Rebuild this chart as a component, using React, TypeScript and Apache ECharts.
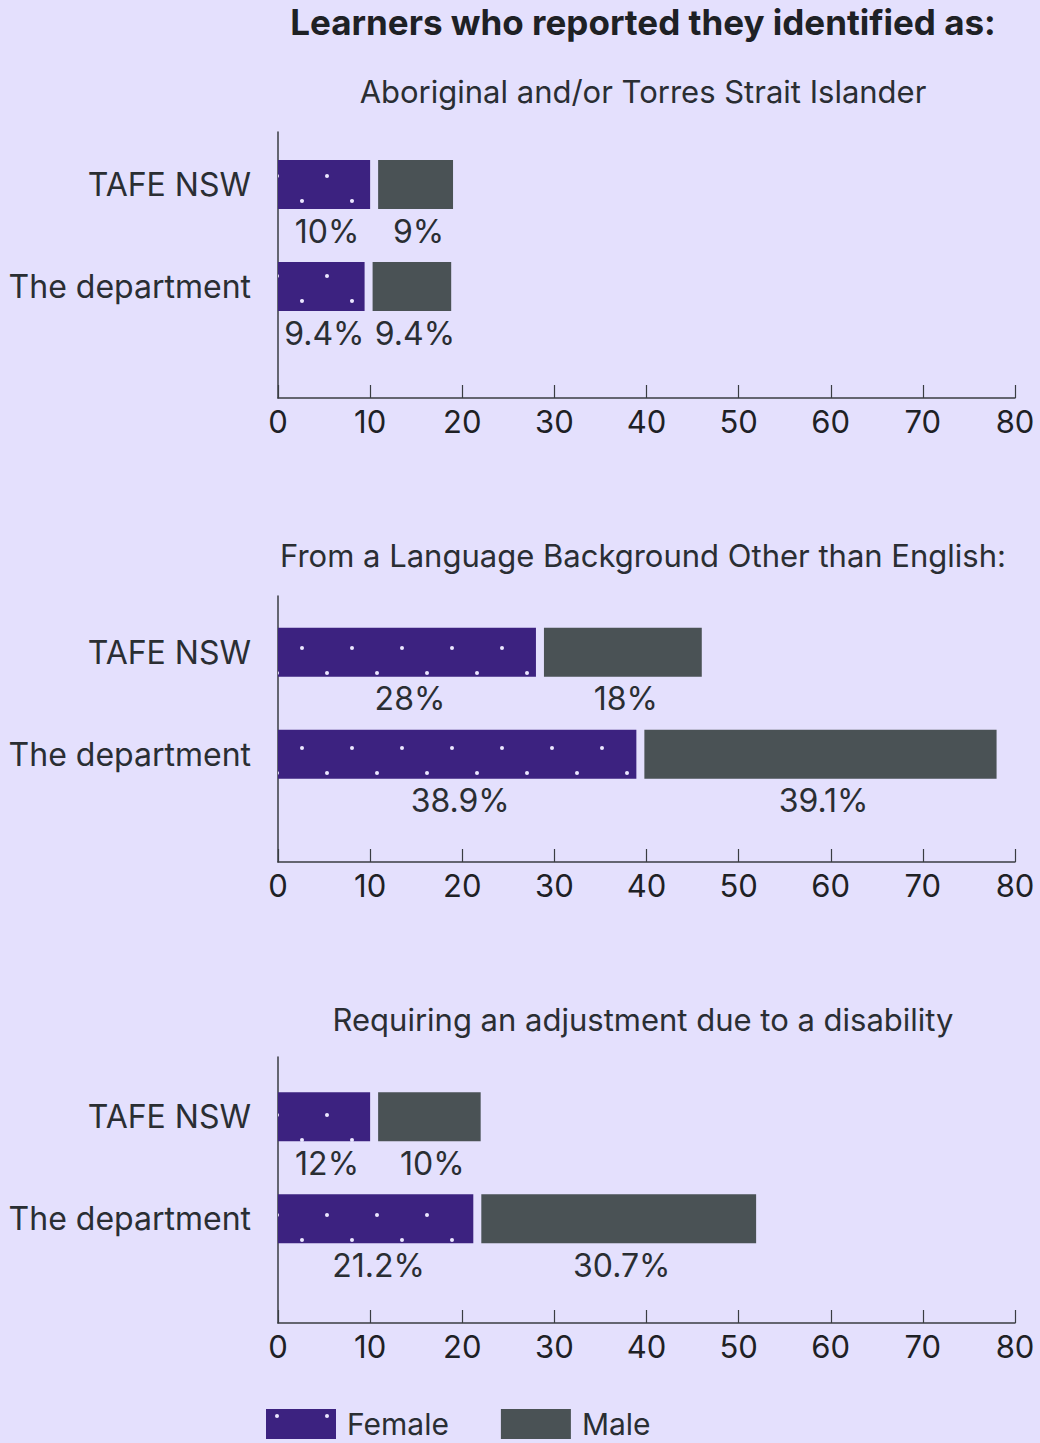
import React, { useEffect, useRef } from "react";
import * as echarts from "echarts";

// ---------- data ----------
const categories = ["TAFE NSW", "The department"];
const chartTitles = [
  "Aboriginal and/or Torres Strait Islander",
  "From a Language Background Other than English:",
  "Requiring an adjustment due to a disability",
];
const mainTitle = "Learners who reported they identified as:";
const seriesNames = ["Female", "Male"];

// bar lengths as drawn
const femaleAboriginal = [10, 9.4];
const maleAboriginal = [9, 9.4];
const femaleLbote = [28, 38.9];
const maleLbote = [18, 39.1];
const femaleDisability = [10, 21.2];
const maleDisability = [12, 30.7];

// printed labels
const femaleAboriginalLabels = ["10%", "9.4%"];
const maleAboriginalLabels = ["9%", "9.4%"];
const femaleLboteLabels = ["28%", "38.9%"];
const maleLboteLabels = ["18%", "39.1%"];
const femaleDisabilityLabels = ["12%", "21.2%"];
const maleDisabilityLabels = ["10%", "30.7%"];

const axisMin = 0;
const axisMax = 80;
const axisInterval = 10;

// ---------- styles ----------
const BG = "#E4E0FD";
const PURPLE = "#3C2280";
const GREY = "#4A5255";
const DOT = "#ECE8FF";
const TEXT = "#2A2E33";
const AXIS = "#3A3D42";
const FONT = "Inter, 'Noto Sans', sans-serif";

const GRID_LEFT = 278;
const GRID_WIDTH = 737;
const BAR_H = 49;
const GAP = 8;
const LABEL_DIST = 6;

const frameTops = [132, 596, 1057];
const frameHeight = 266;
const barGridTops = [133.5, 601.3, 1065.8];
const barGridHeight = 204;
const titleYs = [91, 555, 1019];
const dotPhase = [
  [2, 1],
  [2, 48],
  [2, 40],
];

function makeDots(xA: number, yA: number) {
  const c = document.createElement("canvas");
  c.width = 50;
  c.height = 50;
  const g = c.getContext("2d")!;
  g.fillStyle = PURPLE;
  g.fillRect(0, 0, 50, 50);
  g.fillStyle = DOT;
  const pts = [
    [xA, yA],
    [xA + 25, yA + 25],
  ];
  for (const [px, py] of pts) {
    for (const dx of [-50, 0, 50]) {
      for (const dy of [-50, 0, 50]) {
        g.beginPath();
        g.arc(px + dx, py + dy, 2, 0, Math.PI * 2);
        g.fill();
      }
    }
  }
  return c;
}

export default function App() {
  const ref = useRef<HTMLDivElement>(null);

  useEffect(() => {
    document.body.style.margin = "0";
    document.body.style.background = BG;
    const chart = echarts.init(ref.current!, undefined, { renderer: "svg" });

    const females = [femaleAboriginal, femaleLbote, femaleDisability];
    const males = [maleAboriginal, maleLbote, maleDisability];
    const femaleLabels = [femaleAboriginalLabels, femaleLboteLabels, femaleDisabilityLabels];
    const maleLabels = [maleAboriginalLabels, maleLboteLabels, maleDisabilityLabels];

    const patterns = dotPhase.map(([x, y]) => ({ image: makeDots(x, y), repeat: "repeat" }));
    const legendPattern = { image: makeDots(11, 7), repeat: "repeat" };

    const grids: any[] = [];
    const xAxes: any[] = [];
    const yAxes: any[] = [];
    const series: any[] = [];
    const graphics: any[] = [];

    graphics.push({
      type: "text",
      x: 643,
      y: 22,
      style: {
        text: mainTitle,
        align: "center",
        verticalAlign: "middle",
        fill: "#1E2125",
        font: `700 35px ${FONT}`,
      },
    });

    const makeRender = (labels: string[], fill: any, isMale: boolean) =>
      (params: any, api: any) => {
        const i = params.dataIndex;
        const cat = api.value(0);
        const start = api.value(1);
        const len = api.value(2);
        const p0 = api.coord([start, cat]);
        const p1 = api.coord([start + len, cat]);
        const x0 = p0[0] + (isMale ? GAP : 0);
        const x1 = p1[0];
        const y = p0[1] - BAR_H / 2;
        return {
          type: "group",
          children: [
            {
              type: "rect",
              shape: { x: x0, y, width: x1 - x0, height: BAR_H },
              style: { fill },
            },
            {
              type: "text",
              x: (x0 + x1) / 2 + 3,
              y: y + BAR_H + LABEL_DIST,
              style: {
                text: labels[i],
                align: "center",
                verticalAlign: "top",
                fill: TEXT,
                font: `400 32px ${FONT}`,
              },
            },
          ],
        };
      };

    for (let k = 0; k < 3; k++) {
      grids.push({ left: GRID_LEFT, width: GRID_WIDTH, top: barGridTops[k], height: barGridHeight });
      grids.push({ left: GRID_LEFT, width: GRID_WIDTH, top: frameTops[k], height: frameHeight });

      const gBar = 2 * k;
      const gFrame = 2 * k + 1;

      xAxes.push({
        gridIndex: gBar,
        type: "value",
        min: axisMin,
        max: axisMax,
        interval: axisInterval,
        show: false,
      });
      xAxes.push({
        gridIndex: gFrame,
        type: "value",
        min: axisMin,
        max: axisMax,
        interval: axisInterval,
        axisLine: { show: true, lineStyle: { color: AXIS, width: 1.5 } },
        axisTick: { show: true, inside: true, length: 13, lineStyle: { color: AXIS, width: 1.2 } },
        axisLabel: { color: "#1E2125", fontSize: 31, fontFamily: FONT, margin: 8 },
        splitLine: { show: false },
      });
      yAxes.push({
        gridIndex: gBar,
        type: "category",
        data: categories,
        inverse: true,
        axisLine: { show: false },
        axisTick: { show: false },
        axisLabel: { color: TEXT, fontSize: 32, fontFamily: FONT, margin: 27 },
      });
      yAxes.push({
        gridIndex: gFrame,
        type: "value",
        axisLine: { show: true, lineStyle: { color: AXIS, width: 1.5 } },
        axisTick: { show: false },
        axisLabel: { show: false },
        splitLine: { show: false },
      });

      graphics.push({
        type: "text",
        x: 643,
        y: titleYs[k],
        style: {
          text: chartTitles[k],
          align: "center",
          verticalAlign: "middle",
          fill: TEXT,
          font: `400 31px ${FONT}`,
        },
      });
    }

    for (const k of [2, 1, 0]) {
      const gBar = 2 * k;
      const f = females[k];
      const m = males[k];
      series.push({
        type: "custom",
        name: seriesNames[0],
        xAxisIndex: gBar,
        yAxisIndex: gBar,
        itemStyle: { color: patterns[k] },
        encode: { x: 2, y: 0 },
        data: categories.map((_, i) => [i, 0, f[i]]),
        renderItem: makeRender(femaleLabels[k], patterns[k], false),
        z: 3,
      });
      series.push({
        type: "custom",
        name: seriesNames[1],
        xAxisIndex: gBar,
        yAxisIndex: gBar,
        itemStyle: { color: GREY },
        encode: { x: 2, y: 0 },
        data: categories.map((_, i) => [i, f[i], m[i]]),
        renderItem: makeRender(maleLabels[k], GREY, true),
        z: 3,
      });
    }

    chart.setOption({
      animation: false,
      backgroundColor: BG,
      grid: grids,
      xAxis: xAxes,
      yAxis: yAxes,
      series,
      graphic: graphics,
      legend: {
        left: 266,
        top: 1409,
        padding: 0,
        itemWidth: 70,
        itemHeight: 30,
        itemGap: 52,
        icon: "rect",
        selectedMode: false,
        textStyle: {
          color: TEXT,
          fontSize: 30,
          lineHeight: 26,
          fontFamily: FONT,
          padding: [0, 0, 0, 6],
        },
        data: [
          { name: seriesNames[0], itemStyle: { color: legendPattern } },
          { name: seriesNames[1], itemStyle: { color: GREY } },
        ],
      },
    });

    return () => chart.dispose();
  }, []);

  return (
    <div
      ref={ref}
      style={{ position: "absolute", left: 0, top: 0, width: 1040, height: 1443, background: BG }}
    />
  );
}
